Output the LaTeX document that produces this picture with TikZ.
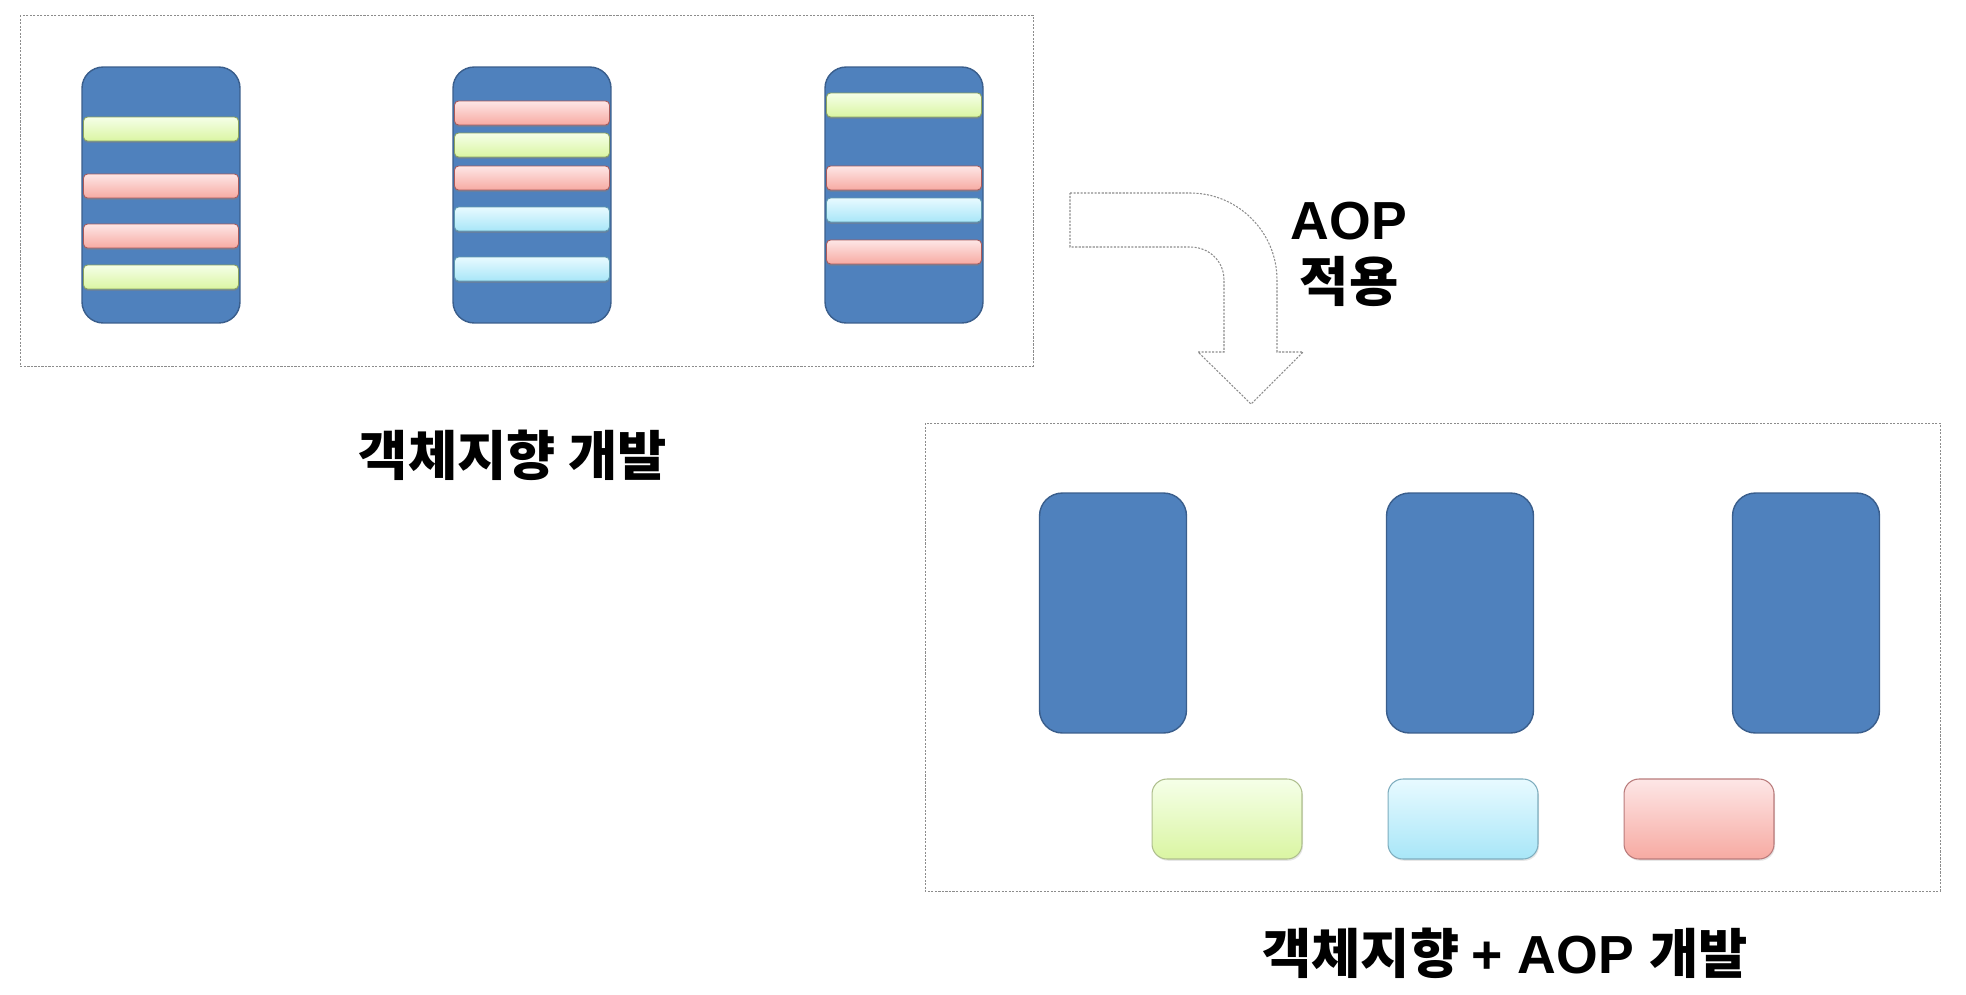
\documentclass[tikz,border=0pt]{standalone}
\usepackage{fontspec}
\setmainfont{Liberation Sans}
\newfontfamily\krfont{Noto Sans CJK KR}
\usetikzlibrary{positioning, shadows}
\definecolor{aopblue}{HTML}{4F81BD}
\definecolor{aopblueline}{HTML}{3A5E8C}
\definecolor{framegray}{HTML}{8C8C8C}
\definecolor{greentop}{HTML}{F5FFE8}
\definecolor{greenbot}{HTML}{DAF5A2}
\definecolor{greenline}{HTML}{8CA35E}
\definecolor{pinktop}{HTML}{FDE6E6}
\definecolor{pinkbot}{HTML}{F7AAA2}
\definecolor{pinkline}{HTML}{A85A5A}
\definecolor{cyantop}{HTML}{E8FAFF}
\definecolor{cyanbot}{HTML}{A8E6F8}
\definecolor{cyanline}{HTML}{5E99AE}

\begin{document}
\begin{tikzpicture}[
  x=0.02cm, y=-0.02cm,
  every node/.style={inner sep=0pt, outer sep=0pt},
  framebox/.style={draw=framegray, dash pattern=on 1.2pt off 0.8pt, line width=0.5pt},
  colnode/.style={rectangle, rounded corners=12pt, draw=aopblueline, fill=aopblue, line width=0.8pt, minimum width=3.16cm, minimum height=5.12cm},
  barnode/.style={rectangle, rounded corners=2.3pt, line width=0.5pt, minimum width=3.1cm, minimum height=0.48cm, drop shadow={opacity=0.45, shadow xshift=0pt, shadow yshift=-1.1pt}},
  greenbar/.style={barnode, draw=greenline, top color=greentop, bottom color=greenbot},
  pinkbar/.style={barnode, draw=pinkline, top color=pinktop, bottom color=pinkbot},
  cyanbar/.style={barnode, draw=cyanline, top color=cyantop, bottom color=cyanbot},
  objnode/.style={rectangle, rounded corners=13pt, draw=aopblueline, fill=aopblue, line width=0.8pt, minimum width=2.94cm, minimum height=4.8cm},
  aspnode/.style={rectangle, rounded corners=8.5pt, line width=0.6pt, minimum width=3.0cm, minimum height=1.6cm, drop shadow={opacity=0.2, shadow xshift=0.6pt, shadow yshift=-1pt}},
  labeltext/.style={font=\fontsize{30.5}{36}\selectfont\bfseries},
]
\useasboundingbox (0,0) rectangle (1966,994);

% Top: plain object oriented classes
\draw[framebox] (20,15) rectangle (1033,366);

\node[colnode] (col1) at (161,195) {};
\node[greenbar] (b11) at (161,129) {};
\node[pinkbar] (b12) at (161,186) {};
\node[pinkbar] (b13) at (161,236) {};
\node[greenbar] (b14) at (161,277) {};

\node[colnode] (col2) at (532,195) {};
\node[pinkbar] (b21) at (532,113) {};
\node[greenbar] (b22) at (532,145) {};
\node[pinkbar] (b23) at (532,178) {};
\node[cyanbar] (b24) at (532,219) {};
\node[cyanbar] (b25) at (532,269) {};

\node[colnode] (col3) at (904,195) {};
\node[greenbar] (b31) at (904,105) {};
\node[pinkbar] (b32) at (904,178) {};
\node[cyanbar] (b33) at (904,210) {};
\node[pinkbar] (b34) at (904,252) {};

\node[labeltext] (oolabel) at (513,455) {\krfont 객체지향 개발};

% Bent block arrow
\draw[framebox, line width=0.6pt] (1070,193) -- (1190,193)
  .. controls (1238,193) and (1277,232) .. (1277,280)
  -- (1277,352) -- (1303,352) -- (1251,404) -- (1198,352) -- (1224,352) -- (1224,280)
  .. controls (1224,261) and (1209,247) .. (1190,247) -- (1070,247) -- cycle;

\node[labeltext] (aoptxt) at (1349,221) {AOP};
\node[labeltext] (applytxt) at (1349,281) {\krfont 적용};

% Bottom: classes with aspects pulled out
\draw[framebox] (925,423) rectangle (1940,891);

\node[objnode] (obj1) at (1113,613) {};
\node[objnode] (obj2) at (1460,613) {};
\node[objnode] (obj3) at (1806,613) {};

\node[aspnode, draw=greenline!70, top color=greentop, bottom color=greenbot] (asp1) at (1227,819) {};
\node[aspnode, draw=cyanline!80, top color=cyantop, bottom color=cyanbot] (asp2) at (1463,819) {};
\node[aspnode, draw=pinkline!80, top color=pinktop, bottom color=pinkbot] (asp3) at (1699,819) {};

\node[labeltext] (aoplabel) at (1505,953) {\krfont 객체지향 \rmfamily + AOP \krfont 개발};

\end{tikzpicture}
\end{document}
